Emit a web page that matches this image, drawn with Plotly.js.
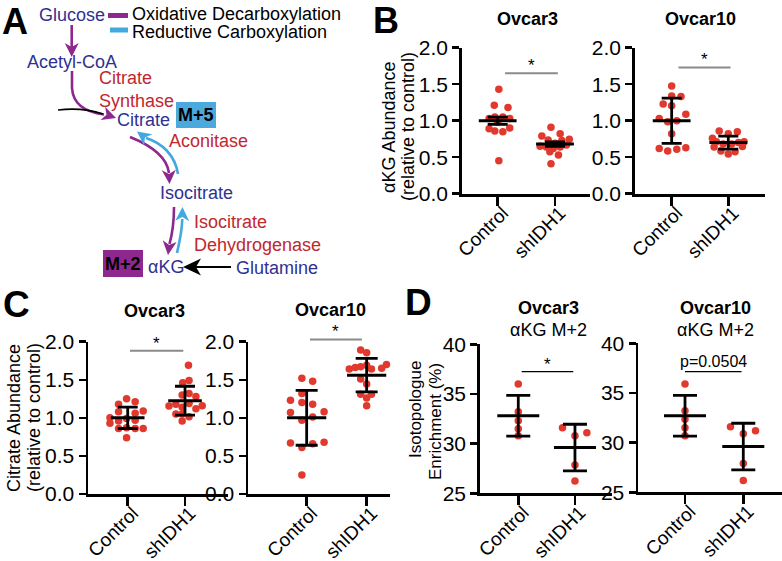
<!DOCTYPE html>
<html><head><meta charset="utf-8">
<script src="https://cdn.plot.ly/plotly-3.0.1.min.js"></script>
<style>html,body{margin:0;padding:0;background:#fff}</style>
</head><body><div id="chart" style="width:782px;height:561px"></div>
<script>
// ---------- DATA ----------
const groups = ['Control', 'shIDH1'];

// B: αKG abundance (relative to control)
const bOv3Ctrl = [1.43, 1.21, 1.18, 1.03, 1.05, 1.05, 1.03, 0.98, 0.89, 0.86, 0.85, 0.90, 0.45];
const bOv3CtrlJit = [0.02, -0.06, 0.18, -0.15, -0.05, 0.09, 0.21, 0.0, -0.15, -0.05, 0.09, 0.21, 0.02];
const bOv3Sh = [0.91, 0.79, 0.82, 0.735, 0.73, 0.745, 0.69, 0.65, 0.64, 0.62, 0.64, 0.667, 0.575, 0.53, 0.41];
const bOv3ShJit = [-0.07, -0.23, 0.09, -0.12, 0.12, 0.25, 0.0, -0.26, -0.15, -0.03, 0.09, 0.20, -0.09, 0.06, -0.07];
const bOv3Means = [1.0, 0.68];
const bOv3Errs = [0.05, 0.03];

const bOv10Ctrl = [1.475, 1.34, 1.33, 1.23, 1.205, 1.09, 1.03, 0.986, 1.0, 0.82, 0.62, 0.585, 0.61, 0.63];
const bOv10CtrlJit = [0, 0, 0.165, -0.15, 0, 0.25, -0.22, -0.07, 0.09, 0, -0.22, -0.07, 0.09, 0.25];
const bOv10Sh = [0.86, 0.82, 0.85, 0.76, 0.71, 0.68, 0.68, 0.70, 0.71, 0.64, 0.585, 0.545, 0.575, 0.645];
const bOv10ShJit = [-0.16, 0, 0.16, -0.28, -0.21, -0.09, 0.06, 0.18, 0.28, -0.25, -0.13, 0, 0.12, 0.25];
const bOv10Means = [1.0, 0.70];
const bOv10Errs = [0.31, 0.09];

// C: Citrate abundance (relative to control)
const cOv3Ctrl = [1.25, 1.18, 1.21, 1.08, 1.06, 1.09, 1.00, 0.96, 0.99, 0.97, 0.93, 0.86, 0.87, 0.86, 0.86, 0.74];
const cOv3CtrlJit = [-0.02, -0.16, 0.13, -0.16, 0.13, 0.27, -0.31, -0.16, -0.02, 0.13, -0.31, -0.16, -0.02, 0.13, 0.27, -0.02];
const cOv3Sh = [1.69, 1.46, 1.49, 1.30, 1.32, 1.28, 1.156, 1.18, 1.19, 1.16, 1.14, 1.12, 1.05, 1.05, 1.015, 0.96];
const cOv3ShJit = [0.06, -0.04, 0.07, -0.05, 0.07, 0.19, -0.28, -0.16, 0.07, 0.30, -0.05, 0.19, -0.16, -0.05, 0.07, -0.05];
const cOv3Means = [1.0, 1.225];
const cOv3Errs = [0.14, 0.19];

const cOv10Ctrl = [1.52, 1.48, 1.32, 1.23, 1.20, 1.18, 1.07, 1.01, 1.08, 0.97, 0.67, 0.61, 0.66, 0.68, 0.25];
const cOv10CtrlJit = [-0.08, 0.10, -0.08, -0.27, -0.08, 0.10, -0.27, 0.10, 0.29, -0.08, -0.27, -0.08, 0.10, 0.29, -0.08];
const cOv10Sh = [1.89, 1.855, 1.64, 1.66, 1.67, 1.69, 1.64, 1.65, 1.70, 1.51, 1.445, 1.31, 1.31, 1.26, 1.16];
const cOv10ShJit = [-0.10, 0, -0.29, -0.19, -0.10, 0, 0.08, 0.25, 0.33, -0.10, 0, -0.10, 0.08, 0, 0];
const cOv10Means = [1.0, 1.56];
const cOv10Errs = [0.36, 0.22];

// D: Isotopologue enrichment (%) αKG M+2
const dOv3Ctrl = [36.0, 33.2, 32.3, 31.5, 30.8];
const dOv3CtrlJit = [0, 0, 0, 0, 0];
const dOv3Sh = [31.6, 30.8, 31.1, 27.85, 26.25];
const dOv3ShJit = [-0.22, 0, 0.21, 0, 0];
const dOv3Means = [32.8, 29.6];
const dOv3Errs = [2.05, 2.35];

const dOv10Ctrl = [35.9, 33.2, 32.35, 31.5, 30.7];
const dOv10CtrlJit = [0, 0, 0, 0, 0];
const dOv10Sh = [31.6, 30.9, 31.2, 27.9, 26.2];
const dOv10ShJit = [-0.22, 0, 0.21, 0, 0];
const dOv10Means = [32.7, 29.6];
const dOv10Errs = [2.05, 2.35];

const yTicks01 = [0, 0.5, 1.0, 1.5, 2.0];
const yTicksD = [25, 30, 35, 40];

// ---------- LAYOUT HELPERS ----------
const W = 782, H = 561;
const FONT = 'Liberation Sans, Arial, sans-serif';
const px = x => x / W;
const py = y => 1 - y / H;
const P = (x, y) => px(x).toFixed(5) + ',' + py(y).toFixed(5);

const DOT = '#E2392F';
const DBLUE = '#2E3192';
const RED = '#C1272D';
const PURPLE = '#8E288E';
const LBLUE = '#43A8DE';

const subplots = [
  {xd: [462, 590], yd: [47.7, 193.7], xr: [-0.623, 1.611], yr: [0, 2], yt: yTicks01, fmt: '.1f',
   s: [[bOv3Ctrl, bOv3CtrlJit], [bOv3Sh, bOv3ShJit]], m: bOv3Means, e: bOv3Errs,
   sig: {x0: 0.13, x1: 1.05, y: 1.65, t: '*', c: '#8a8a8a', w: 2}, meanSize: 27, cap: 10},
  {xd: [635, 765], yd: [47.7, 193.7], xr: [-0.648, 1.649], yr: [0, 2], yt: yTicks01, fmt: '.1f',
   s: [[bOv10Ctrl, bOv10CtrlJit], [bOv10Sh, bOv10ShJit]], m: bOv10Means, e: bOv10Errs,
   sig: {x0: 0.12, x1: 1.04, y: 1.73, t: '*', c: '#8a8a8a', w: 2}, meanSize: 27, cap: 10},
  {xd: [88.3, 228], yd: [341.7, 494], xr: [-0.688, 1.75], yr: [0, 2], yt: yTicks01, fmt: '.1f',
   s: [[cOv3Ctrl, cOv3CtrlJit], [cOv3Sh, cOv3ShJit]], m: cOv3Means, e: cOv3Errs,
   sig: {x0: 0.04, x1: 0.97, y: 1.88, t: '*', c: '#8a8a8a', w: 2}, meanSize: 24, cap: 10},
  {xd: [248.3, 390], yd: [341.7, 494], xr: [-0.973, 1.389], yr: [0, 2], yt: yTicks01, fmt: '.1f',
   s: [[cOv10Ctrl, cOv10CtrlJit], [cOv10Sh, cOv10ShJit]], m: cOv10Means, e: cOv10Errs,
   sig: {x0: 0.055, x1: 0.92, y: 2.03, t: '*', c: '#8a8a8a', w: 2}, meanSize: 28, cap: 11},
  {xd: [480, 611.7], yd: [344.3, 493.3], xr: [-0.675, 1.648], yr: [25, 40], yt: yTicksD, fmt: 'd',
   s: [[dOv3Ctrl, dOv3CtrlJit], [dOv3Sh, dOv3ShJit]], m: dOv3Means, e: dOv3Errs,
   sig: {x0: 0.06, x1: 0.97, y: 37.25, t: '*', c: '#000', w: 1.2}, meanSize: 30, cap: 12},
  {xd: [638.3, 782], yd: [343.3, 492.3], xr: [-0.801, 1.664], yr: [25, 40], yt: yTicksD, fmt: 'd',
   s: [[dOv10Ctrl, dOv10CtrlJit], [dOv10Sh, dOv10ShJit]], m: dOv10Means, e: dOv10Errs,
   sig: {x0: 0.0, x1: 0.97, y: 37.15, t: 'p=0.0504', c: '#000', w: 1.2}, meanSize: 30, cap: 12}
];

const data = [];
const layout = {
  width: W, height: H, margin: {l: 0, r: 0, t: 0, b: 0},
  paper_bgcolor: '#fff', plot_bgcolor: 'rgba(0,0,0,0)',
  showlegend: false, font: {family: FONT, color: '#000', size: 18},
  shapes: [], annotations: []
};

subplots.forEach((sp, i) => {
  const k = i === 0 ? '' : String(i + 1);
  const xa = 'x' + k, ya = 'y' + k;
  layout['xaxis' + k] = {
    domain: [px(sp.xd[0]), px(sp.xd[1])], range: sp.xr, anchor: ya,
    tickmode: 'array', tickvals: [0, 1], ticktext: groups, tickangle: -45,
    ticks: 'outside', ticklen: 9, tickwidth: 2.5, tickcolor: '#000',
    ticklabelstandoff: -11, ticklabelshift: 5,
    showline: true, linewidth: 2.8, linecolor: '#000', zeroline: false, showgrid: false,
    tickfont: {family: FONT, size: 19, color: '#000'}, fixedrange: true
  };
  layout['yaxis' + k] = {
    domain: [py(sp.yd[1]), py(sp.yd[0])], range: sp.yr, anchor: xa,
    tickmode: 'array', tickvals: sp.yt, ticktext: sp.yt.map(v => sp.fmt === '.1f' ? v.toFixed(1) : String(v)),
    ticks: 'outside', ticklen: 7, tickwidth: 2.5, tickcolor: '#000',
    showline: true, linewidth: 2.8, linecolor: '#000', zeroline: false, showgrid: false,
    tickfont: {family: FONT, size: 21, color: '#000'}, fixedrange: true
  };
  sp.s.forEach((ser, g) => {
    data.push({
      type: 'scatter', mode: 'markers', xaxis: xa, yaxis: ya, cliponaxis: false,
      x: ser[0].map((v, j) => g + ser[1][j]), y: ser[0],
      marker: {color: DOT, size: 7.5, line: {width: 0}}, hoverinfo: 'y'
    });
  });
  data.push({
    type: 'scatter', mode: 'markers', xaxis: xa, yaxis: ya, cliponaxis: false,
    x: [0, 1], y: sp.m,
    marker: {symbol: 'line-ew', size: sp.meanSize, color: '#000', line: {width: 3, color: '#000'}},
    error_y: {type: 'data', array: sp.e, visible: true, width: sp.cap, thickness: 2.8, color: '#000'},
    hoverinfo: 'y'
  });
  // significance bar in domain coordinates
  const fx = v => (v - sp.xr[0]) / (sp.xr[1] - sp.xr[0]);
  const fy = v => (v - sp.yr[0]) / (sp.yr[1] - sp.yr[0]);
  layout.shapes.push({type: 'line', xref: xa + ' domain', yref: ya + ' domain',
    x0: fx(sp.sig.x0), x1: fx(sp.sig.x1), y0: fy(sp.sig.y), y1: fy(sp.sig.y),
    line: {color: sp.sig.c, width: sp.sig.w}});
  layout.annotations.push({xref: xa + ' domain', yref: ya + ' domain',
    x: fx((sp.sig.x0 + sp.sig.x1) / 2), y: fy(sp.sig.y), yanchor: 'bottom', xanchor: 'center',
    text: sp.sig.t, showarrow: false, yshift: sp.sig.t === '*' ? -4 : 0,
    font: {family: FONT, size: sp.sig.t === '*' ? 17 : 16, color: '#000'}});
});

// ---------- TEXT (titles, axis titles, panel letters) ----------
function txt(x, y, t, opts = {}) {
  layout.annotations.push(Object.assign({
    xref: 'paper', yref: 'paper', x: px(x), y: py(y), text: t, showarrow: false,
    xanchor: 'center', yanchor: 'middle',
    font: {family: FONT, size: 18, color: '#000'}
  }, opts));
}
const bold = (s) => '<b>' + s + '</b>';
// panel letters
txt(15, 21.5, bold('A'), {font: {family: FONT, size: 36, color: '#000'}});
txt(386, 20.5, bold('B'), {font: {family: FONT, size: 36, color: '#000'}});
txt(16, 304, bold('C'), {font: {family: FONT, size: 37, color: '#000'}});
txt(418, 302, bold('D'), {font: {family: FONT, size: 37, color: '#000'}});
// subplot titles
txt(527, 19, bold('Ovcar3'));
txt(700, 19, bold('Ovcar10'));
txt(154, 311, bold('Ovcar3'));
txt(330, 310, bold('Ovcar10'));
txt(548, 308, bold('Ovcar3'));
txt(548, 330, 'αKG M+2');
txt(715, 308, bold('Ovcar10'));
txt(715, 330, 'αKG M+2');
// y-axis titles
const rot = {textangle: -90};
txt(389, 127, 'αKG Abundance', rot);
txt(408, 127, '(relative to control)', rot);
txt(14, 418, 'Citrate Abundance', rot);
txt(34, 418, '(relative to control)', rot);
txt(415, 410, 'Isotopologue', Object.assign({}, rot, {font: {family: FONT, size: 17, color: '#000'}}));
txt(435, 422, 'Enrichment (%)', Object.assign({}, rot, {font: {family: FONT, size: 17, color: '#000'}}));

// ---------- PANEL A DIAGRAM ----------
const blueT = {family: FONT, size: 18, color: DBLUE};
const redT = {family: FONT, size: 18, color: RED};
txt(71.5, 15.5, 'Glucose', {font: blueT});
txt(130, 14, 'Oxidative Decarboxylation', {xanchor: 'left'});
txt(130, 31.5, 'Reductive Carboxylation', {xanchor: 'left'});
txt(71.5, 62, 'Acetyl-CoA', {font: blueT});
txt(97, 78, 'Citrate', {xanchor: 'left', font: redT});
txt(97, 101, 'Synthase', {xanchor: 'left', font: redT});
txt(143.5, 120, 'Citrate', {font: blueT});
txt(167, 141, 'Aconitase', {xanchor: 'left', font: redT});
txt(196.5, 193, 'Isocitrate', {font: blueT});
txt(192, 222, 'Isocitrate', {xanchor: 'left', font: redT});
txt(192, 245, 'Dehydrogenase', {xanchor: 'left', font: redT});
txt(166, 267, 'αKG', {font: blueT});
txt(276.5, 268, 'Glutamine', {font: blueT});

function rect(x0, y0, x1, y1, color) {
  layout.shapes.push({type: 'rect', xref: 'paper', yref: 'paper', x0: px(x0), x1: px(x1), y0: py(y1), y1: py(y0),
    fillcolor: color, line: {width: 0}, layer: 'below'});
}
rect(108, 13, 128, 18, PURPLE);
rect(110, 27.5, 128, 32.5, LBLUE);
rect(176, 102, 216, 128, '#4BA9DE');
rect(103, 250, 143, 277, PURPLE);
txt(196, 115, bold('M+5'));
txt(123, 264, bold('M+2'));

function curve(d, color, w) {
  layout.shapes.push({type: 'path', xref: 'paper', yref: 'paper', path: d, line: {color: color, width: w}});
}
function head(tx, ty, dx, dy, len, hw, notch, color) {
  const n = Math.hypot(dx, dy); dx /= n; dy /= n;
  const nx = -dy, ny = dx;
  const bx = tx - dx * len, by = ty - dy * len;
  const d = 'M ' + P(tx, ty) + ' L ' + P(bx + nx * hw, by + ny * hw) + ' L ' +
    P(tx - dx * (len - notch), ty - dy * (len - notch)) + ' L ' + P(bx - nx * hw, by - ny * hw) + ' Z';
  layout.shapes.push({type: 'path', xref: 'paper', yref: 'paper', path: d, fillcolor: color, line: {width: 0}});
}
// Glucose -> Acetyl-CoA
curve('M ' + P(71.7, 25) + ' L ' + P(71.7, 50), PURPLE, 2.6);
head(71.7, 57, 0, 1, 14, 7, 4, PURPLE);
// Acetyl-CoA -> Citrate
curve('M ' + P(72, 71) + ' L ' + P(72, 88) + ' C ' + P(73, 104) + ' ' + P(84, 112) + ' ' + P(104, 114.5), PURPLE, 2.6);
curve('M ' + P(58, 110) + ' Q ' + P(82, 107) + ' ' + P(103, 114), '#000', 1.6);
head(116, 118, 1, 0.35, 14, 7, 4, PURPLE);
// Citrate -> Isocitrate (purple)
curve('M ' + P(130, 137) + ' C ' + P(150, 145) + ' ' + P(167, 157) + ' ' + P(169, 173), PURPLE, 2.6);
head(169.5, 184, 0.05, 1, 14, 7, 4, PURPLE);
// Isocitrate -> Citrate (blue)
curve('M ' + P(178, 174) + ' C ' + P(175, 155) + ' ' + P(162, 143) + ' ' + P(146, 138), LBLUE, 2.6);
head(137, 131.5, -0.8, -0.6, 14, 7, 4, LBLUE);
// Isocitrate -> αKG (purple)
curve('M ' + P(174, 207) + ' C ' + P(174, 224) + ' ' + P(172, 235) + ' ' + P(169.5, 244), PURPLE, 2.6);
head(168, 255, -0.12, 1, 14, 7, 4, PURPLE);
// αKG -> Isocitrate (blue)
curve('M ' + P(177, 253) + ' C ' + P(180, 240) + ' ' + P(182, 230) + ' ' + P(182.3, 219), LBLUE, 2.6);
head(182.5, 207, 0.02, -1, 14, 7, 4, LBLUE);
// Glutamine -> αKG
curve('M ' + P(231, 267) + ' L ' + P(196, 267), '#000', 2.2);
head(183, 267, -1, 0, 18, 8.5, 5, '#000');

Plotly.newPlot('chart', data, layout, {displayModeBar: false, staticPlot: true});
</script></body></html>
